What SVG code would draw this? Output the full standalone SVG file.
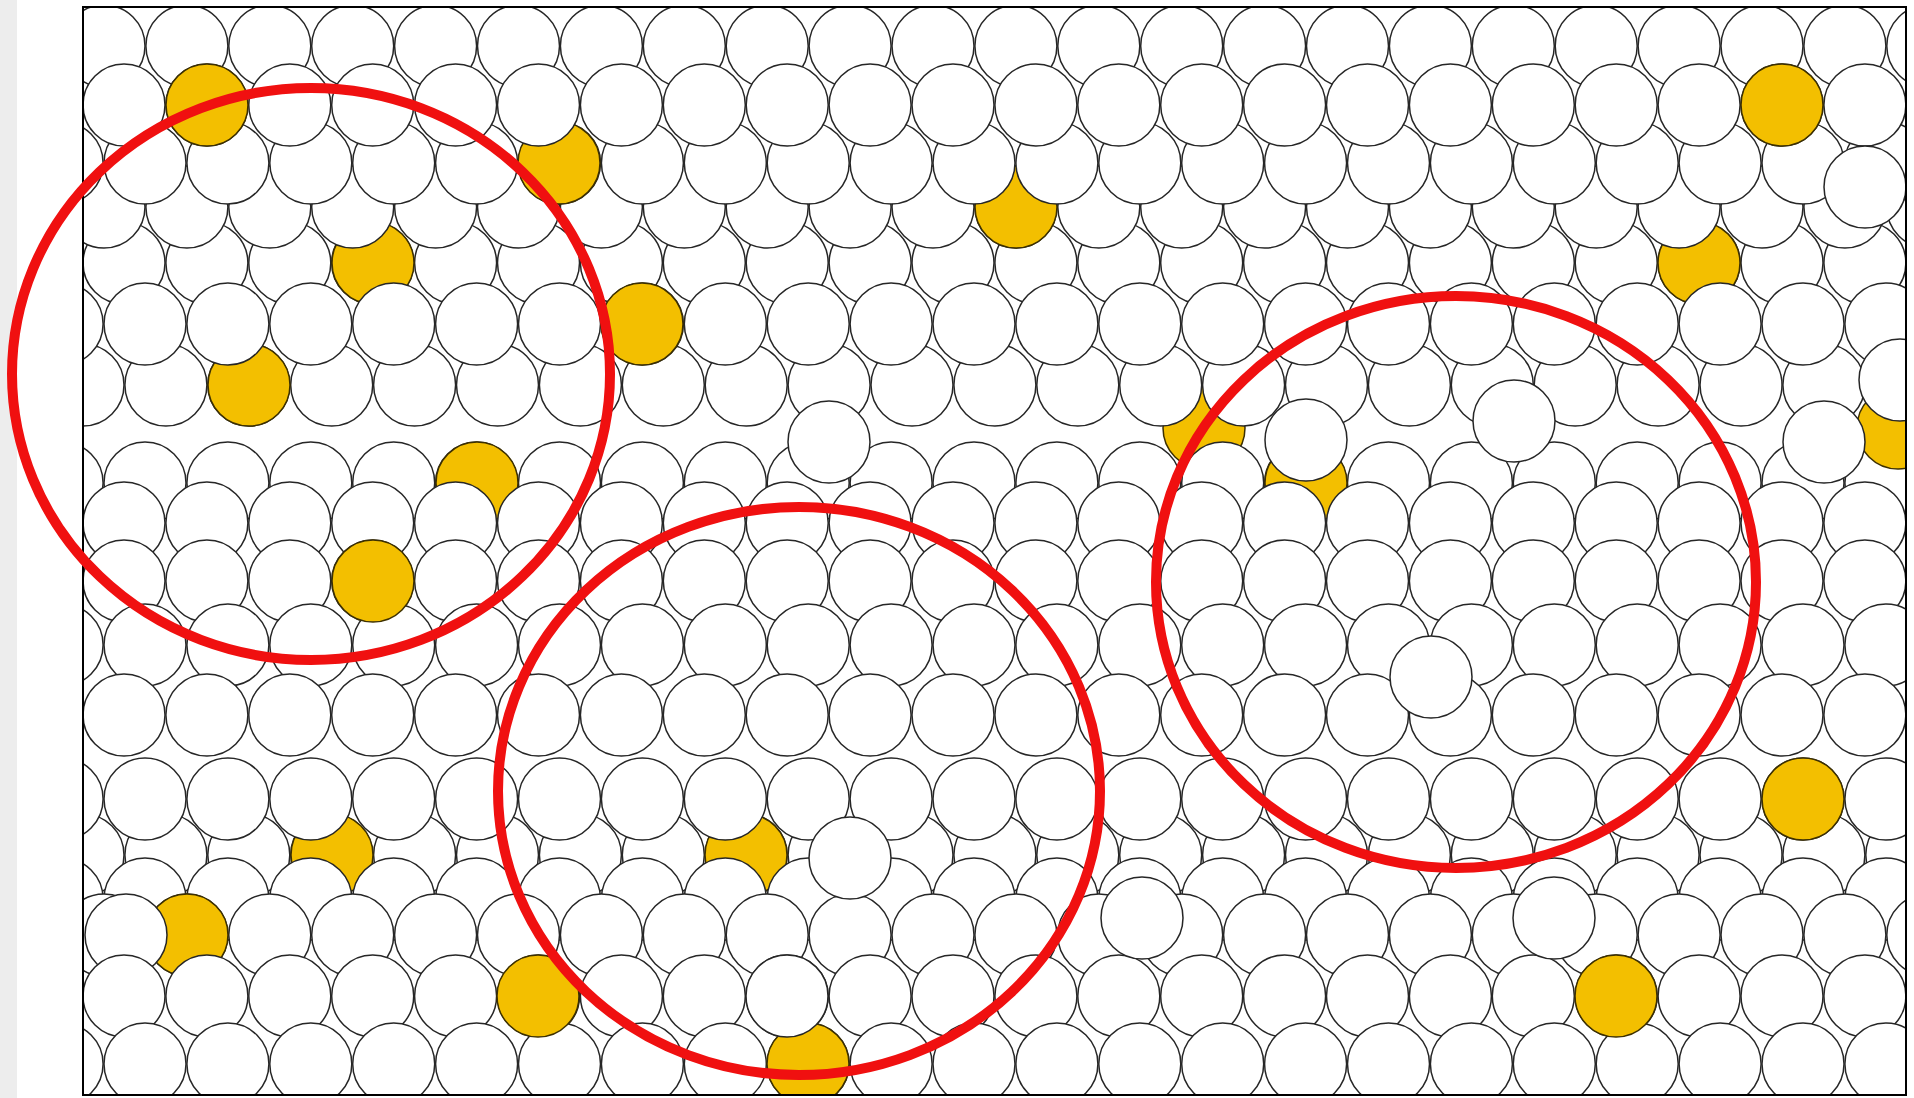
<svg xmlns="http://www.w3.org/2000/svg" width="1914" height="1098" viewBox="0 0 1914 1098">
<style>
.y{fill:#f3bf00;stroke:#3d3000;stroke-width:1.5}
.w{fill:#fff;stroke:#262626;stroke-width:1.5}
.hl{fill:none;stroke:#f01010;stroke-width:10}
</style>
<defs>
<clipPath id="frame"><rect x="83" y="7" width="1823" height="1088"/></clipPath>
<g id="row" fill="#fff" stroke="#262626" stroke-width="1.5">
<circle cx="-82.9" cy="0" r="41"/><circle cx="0" cy="0" r="41"/><circle cx="82.9" cy="0" r="41"/><circle cx="165.8" cy="0" r="41"/><circle cx="248.7" cy="0" r="41"/><circle cx="331.6" cy="0" r="41"/><circle cx="414.5" cy="0" r="41"/><circle cx="497.4" cy="0" r="41"/><circle cx="580.3" cy="0" r="41"/><circle cx="663.2" cy="0" r="41"/><circle cx="746.1" cy="0" r="41"/><circle cx="829" cy="0" r="41"/><circle cx="911.9" cy="0" r="41"/><circle cx="994.8" cy="0" r="41"/><circle cx="1077.7" cy="0" r="41"/><circle cx="1160.6" cy="0" r="41"/><circle cx="1243.5" cy="0" r="41"/><circle cx="1326.4" cy="0" r="41"/><circle cx="1409.3" cy="0" r="41"/><circle cx="1492.2" cy="0" r="41"/><circle cx="1575.1" cy="0" r="41"/><circle cx="1658" cy="0" r="41"/><circle cx="1740.9" cy="0" r="41"/><circle cx="1823.8" cy="0" r="41"/>
</g>
</defs>
<rect width="1914" height="1098" fill="#fff"/>
<rect x="0" y="0" width="17" height="1098" fill="#ededed"/>
<g id="packing" clip-path="url(#frame)">
<use href="#row" x="124" y="263"/>
<circle class="y" cx="373" cy="263" r="41"/>
<circle class="y" cx="1699" cy="263" r="41"/>
<use href="#row" x="104" y="207"/>
<circle class="y" cx="1016" cy="207" r="41"/>
<use href="#row" x="145" y="163"/>
<circle class="y" cx="559" cy="163" r="41"/>
<use href="#row" x="104" y="46"/>
<use href="#row" x="124" y="105"/>
<circle class="y" cx="207" cy="105" r="41"/>
<circle class="y" cx="1782" cy="105" r="41"/>
<circle class="y" cx="1204" cy="428" r="41"/>
<use href="#row" x="83" y="385"/>
<circle class="y" cx="249" cy="385" r="41"/>
<use href="#row" x="145" y="324"/>
<circle class="y" cx="642" cy="324" r="41"/>
<use href="#row" x="145" y="483"/>
<circle class="y" cx="477" cy="483" r="41"/>
<circle class="y" cx="1306" cy="483" r="41"/>
<circle class="y" cx="1898" cy="428" r="41"/>
<use href="#row" x="124" y="523"/>
<use href="#row" x="124" y="581"/>
<use href="#row" x="145" y="645"/>
<circle class="y" cx="373" cy="581" r="41"/>
<use href="#row" x="124" y="715"/>
<use href="#row" x="83" y="855"/>
<circle class="y" cx="332" cy="855" r="41"/>
<circle class="y" cx="746" cy="855" r="41"/>
<use href="#row" x="145" y="899"/>
<use href="#row" x="104" y="935"/>
<circle class="y" cx="187" cy="935" r="41"/>
<circle class="w" cx="126" cy="935" r="41"/>
<use href="#row" x="124" y="996"/>
<use href="#row" x="145" y="1064"/>
<circle class="y" cx="808" cy="1064" r="41"/>
<circle class="w" cx="787" cy="996" r="41"/>
<circle class="y" cx="538" cy="996" r="41"/>
<circle class="y" cx="1616" cy="996" r="41"/>
<use href="#row" x="145" y="799"/>
<circle class="y" cx="1803" cy="799" r="41"/>
<circle class="w" cx="829" cy="442" r="41"/>
<circle class="w" cx="1306" cy="440" r="41"/>
<circle class="w" cx="1514" cy="421" r="41"/>
<circle class="w" cx="1431" cy="677" r="41"/>
<circle class="w" cx="1554" cy="918" r="41"/>
<circle class="w" cx="1142" cy="918" r="41"/>
<circle class="w" cx="850" cy="858" r="41"/>
<circle class="w" cx="1865" cy="187" r="41"/>
<circle class="w" cx="1900" cy="380" r="41"/>
<circle class="w" cx="1824" cy="442" r="41"/>
</g>
<rect id="border" x="83" y="7" width="1823" height="1088" fill="none" stroke="#000" stroke-width="2"/>
<g id="highlights">
<ellipse class="hl" cx="311" cy="374" rx="299" ry="286"/>
<ellipse class="hl" cx="799" cy="791" rx="301" ry="284"/>
<ellipse class="hl" cx="1456" cy="582" rx="300" ry="286"/>
</g>
</svg>
